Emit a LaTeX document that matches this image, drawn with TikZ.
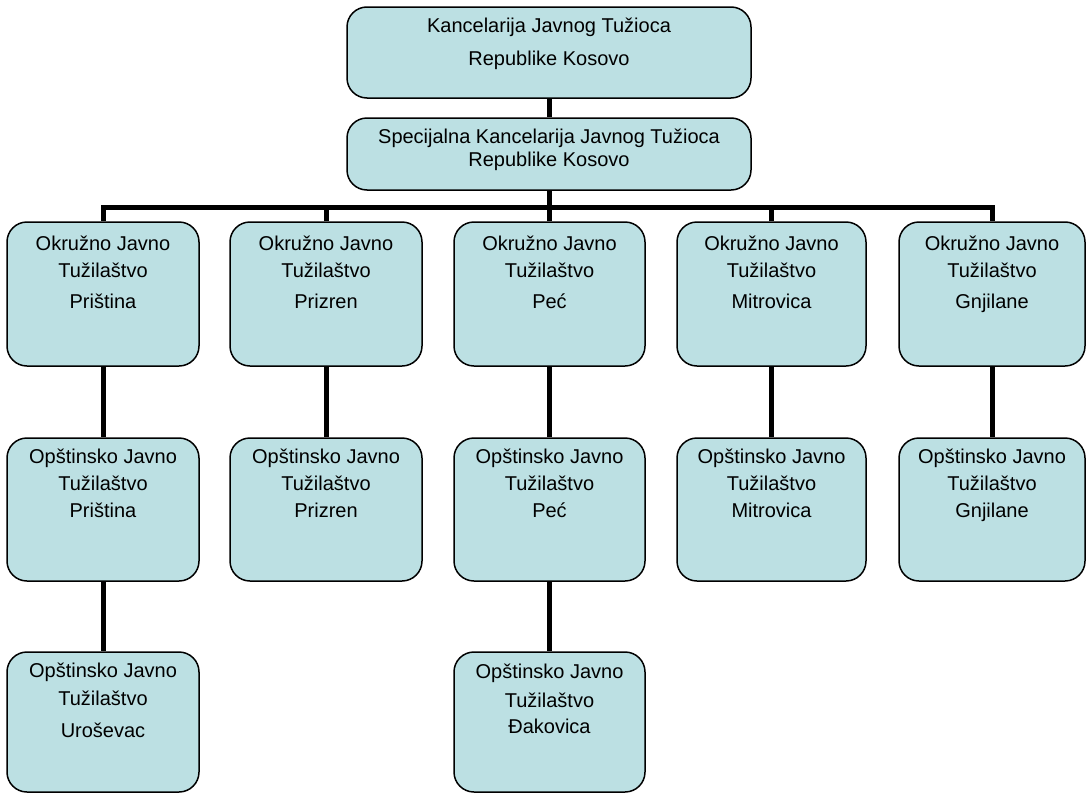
\documentclass[tikz,border=0pt]{standalone}
\usepackage{fontspec}
\setmainfont{Liberation Sans}
\definecolor{boxfill}{RGB}{188,224,227}
\tikzset{
  orgbox/.style={draw=black, line width=1.5pt, fill=boxfill, rounded corners=20pt, inner sep=0pt},
  orgtxt/.style={anchor=base, align=center, inner sep=0pt, font=\fontsize{20}{24}\selectfont},
  link/.style={line width=5pt, black}
}
\begin{document}
\begin{tikzpicture}[x=1pt,y=-1pt]
\useasboundingbox (0,0) rectangle (1086,795);
% top boxes (text nodes anchored at the baseline of their last line)
\node[orgbox, minimum width=404pt, minimum height=91pt] (top) at (549,52.5) {};
\node[orgtxt] (toptxt) at (549,65) {Kancelarija Javnog Tužioca\\[9pt]Republike Kosovo};
\node[orgbox, minimum width=404pt, minimum height=72pt] (sp) at (549,154) {};
\node[orgtxt] (sptxt) at (549,166) {Specijalna Kancelarija Javnog Tužioca\\[-1pt]Republike Kosovo};
% row 1
\node[orgbox, minimum width=192pt, minimum height=144pt] (o1) at (103,294) {};
\node[orgbox, minimum width=192pt, minimum height=144pt] (o2) at (326,294) {};
\node[orgbox, minimum width=191pt, minimum height=144pt] (o3) at (549.5,294) {};
\node[orgbox, minimum width=189pt, minimum height=144pt] (o4) at (771.5,294) {};
\node[orgbox, minimum width=186pt, minimum height=144pt] (o5) at (992,294) {};
\node[orgtxt] (o1t) at (103,308) {Okružno Javno\\[3pt]Tužilaštvo\\[7pt]Priština};
\node[orgtxt] (o2t) at (326,308) {Okružno Javno\\[3pt]Tužilaštvo\\[7pt]Prizren};
\node[orgtxt] (o3t) at (549.5,308) {Okružno Javno\\[3pt]Tužilaštvo\\[7pt]Peć};
\node[orgtxt] (o4t) at (771.5,308) {Okružno Javno\\[3pt]Tužilaštvo\\[7pt]Mitrovica};
\node[orgtxt] (o5t) at (992,308) {Okružno Javno\\[3pt]Tužilaštvo\\[7pt]Gnjilane};
% row 2
\node[orgbox, minimum width=192pt, minimum height=143pt] (p1) at (103,509.5) {};
\node[orgbox, minimum width=192pt, minimum height=143pt] (p2) at (326,509.5) {};
\node[orgbox, minimum width=191pt, minimum height=143pt] (p3) at (549.5,509.5) {};
\node[orgbox, minimum width=189pt, minimum height=143pt] (p4) at (771.5,509.5) {};
\node[orgbox, minimum width=186pt, minimum height=143pt] (p5) at (992,509.5) {};
\node[orgtxt] (p1t) at (103,517) {Opštinsko Javno\\[3pt]Tužilaštvo\\[3pt]Priština};
\node[orgtxt] (p2t) at (326,517) {Opštinsko Javno\\[3pt]Tužilaštvo\\[3pt]Prizren};
\node[orgtxt] (p3t) at (549.5,517) {Opštinsko Javno\\[3pt]Tužilaštvo\\[3pt]Peć};
\node[orgtxt] (p4t) at (771.5,517) {Opštinsko Javno\\[3pt]Tužilaštvo\\[3pt]Mitrovica};
\node[orgtxt] (p5t) at (992,517) {Opštinsko Javno\\[3pt]Tužilaštvo\\[3pt]Gnjilane};
% row 3
\node[orgbox, minimum width=192pt, minimum height=140pt] (q1) at (103,722) {};
\node[orgbox, minimum width=191pt, minimum height=140pt] (q3) at (549.5,722) {};
\node[orgtxt] (q1t) at (103,737) {Opštinsko Javno\\[4pt]Tužilaštvo\\[8pt]Uroševac};
\node[orgtxt] (q3t) at (549.5,733) {Opštinsko Javno\\[5pt]Tužilaštvo\\[2pt]Đakovica};
% connectors
\draw[link] (top.south) -- (sp.north);
\draw[link] (sp.south) -- ++(0,18);
\draw[link] (o1.north) -- ++(0,-14) -| (o5.north);
\draw[link] (o2.north) -- ++(0,-16);
\draw[link] (o3.north) -- ++(0,-16);
\draw[link] (o4.north) -- ++(0,-16);
\draw[link] (o1.south) -- (p1.north);
\draw[link] (o2.south) -- (p2.north);
\draw[link] (o3.south) -- (p3.north);
\draw[link] (o4.south) -- (p4.north);
\draw[link] (o5.south) -- (p5.north);
\draw[link] (p1.south) -- (q1.north);
\draw[link] (p3.south) -- (q3.north);
\end{tikzpicture}
\end{document}
